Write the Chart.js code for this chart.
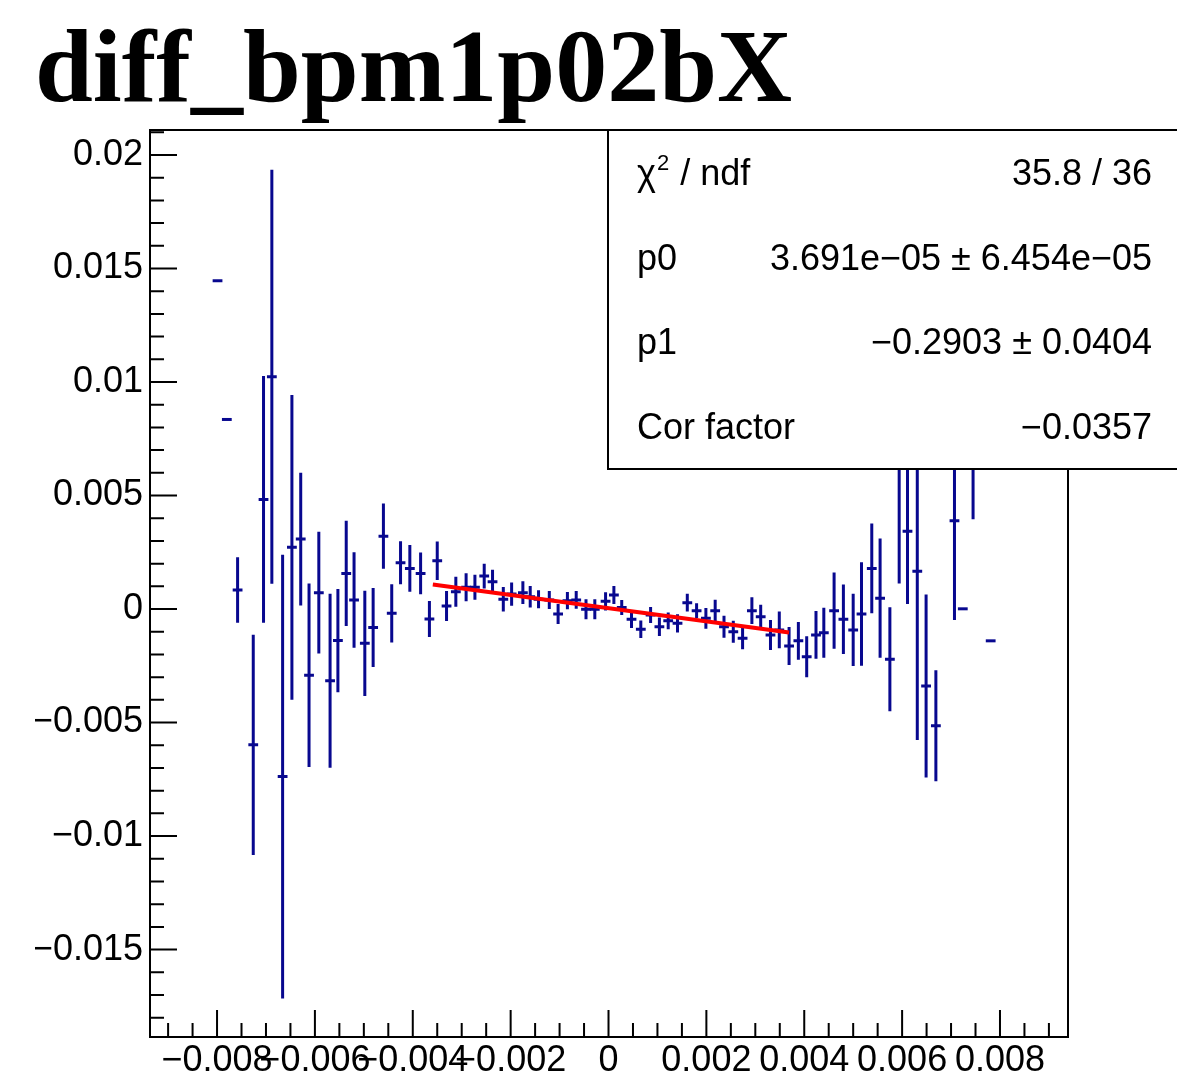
<!DOCTYPE html>
<html>
<head>
<meta charset="utf-8">
<title>diff_bpm1p02bX</title>
<script src="https://cdn.jsdelivr.net/npm/chart.js@4.4.1/dist/chart.umd.min.js"></script>
<style>
  html, body { margin: 0; padding: 0; background: #fff; }
</style>
</head>
<body>
<canvas id="plot" width="1177" height="1090"></canvas>
<script>
const xValues = [
  -0.00799, -0.0078, -0.00758, -0.00726, -0.00705, -0.00688, -0.00666, -0.00647, -0.00629, -0.00612,
  -0.00592, -0.00569, -0.00553, -0.00536, -0.0052, -0.00498, -0.00481, -0.0046, -0.00443, -0.00425,
  -0.00406, -0.00384, -0.00366, -0.0035, -0.00331, -0.00312, -0.00291, -0.00273, -0.00254, -0.00237,
  -0.00215, -0.00198, -0.00175, -0.0016, -0.00143, -0.00121, -0.00103, -0.00084, -0.00066, -0.00046,
  -0.00028, -0.00006, 0.00011, 0.00027, 0.00047, 0.00066, 0.00086, 0.00104, 0.00122, 0.00141,
  0.00161, 0.0018, 0.00199, 0.00218, 0.00236, 0.00255, 0.00274, 0.00293, 0.00311, 0.00331,
  0.00349, 0.00369, 0.00388, 0.00405, 0.00424, 0.0044, 0.00461, 0.0048, 0.005, 0.00517,
  0.00538, 0.00555, 0.00575, 0.00594, 0.00611, 0.00631, 0.00649, 0.00669, 0.00707, 0.00724,
  0.00745, 0.00781,
];

const yValues = [
  0.01446, 0.00835, 0.00084, -0.00598, 0.00483, 0.01023, -0.00738, 0.00272, 0.00308, -0.00292,
  0.00072, -0.00316, -0.00139, 0.00157, 0.0004, -0.00151, -0.00081, 0.00321, -0.00019, 0.00204,
  0.00179, 0.00157, -0.00044, 0.00213, 0.00013, 0.00076, 0.00096, 0.00096, 0.00145, 0.0012,
  0.00043, 0.00066, 0.00072, 0.00054, 0.00043, 0.0004, -0.00022, 0.00037, 0.0004, -0.00001,
  -0.00001, 0.00034, 0.00062, 0.00007, -0.00045, -0.00089, -0.00026, -0.00078, -0.00052, -0.00063,
  0.00028, -0.00007, -0.00041, -0.00007, -0.00078, -0.001, -0.00129, -0.00007, -0.00034, -0.00114,
  -0.00092, -0.00163, -0.0014, -0.0021, -0.00114, -0.00104, -0.00007, -0.00045, -0.00092, -0.00022,
  0.00179, 0.00048, -0.00221, 0.00744, 0.00343, 0.00166, -0.00339, -0.00514, 0.00389, 0.00001,
  0.00832, -0.0014,
];

const yErrors = [
  0, 0, 0.00144, 0.00485, 0.00543, 0.00912, 0.00977, 0.00671, 0.00292, 0.00404,
  0.00268, 0.00383, 0.00227, 0.00232, 0.0021, 0.00232, 0.00174, 0.00144, 0.00128, 0.00095,
  0.00103, 0.00092, 0.00079, 0.00085, 0.00066, 0.00066, 0.00062, 0.00055, 0.00054, 0.00053,
  0.00054, 0.00051, 0.0005, 0.00047, 0.0004, 0.0004, 0.00044, 0.00038, 0.00039, 0.00044,
  0.00044, 0.0004, 0.0004, 0.00033, 0.00039, 0.00039, 0.00035, 0.00041, 0.00037, 0.0004,
  0.00039, 0.00033, 0.00046, 0.00048, 0.00048, 0.00048, 0.00048, 0.00059, 0.00053, 0.00066,
  0.00081, 0.00084, 0.00083, 0.0009, 0.00105, 0.0011, 0.00168, 0.00153, 0.00159, 0.00228,
  0.00198, 0.00263, 0.00229, 0.00631, 0.00321, 0.00743, 0.00403, 0.00244, 0.00437, 0,
  0.00436, 0,
];

const xHalfWidth = 0.0001;

const fitX = [-0.00359, 0.00369];
const fitY = [0.00108, -0.00103];

const xTickValues = [-0.008, -0.006, -0.004, -0.002, 0, 0.002, 0.004, 0.006, 0.008];
const yTickValues = [-0.015, -0.01, -0.005, 0, 0.005, 0.01, 0.015, 0.02];

const statLabels = ["χ^2 / ndf", "p0", "p1", "Cor factor"];
const statValues = ["35.8 / 36", "3.691e\u221205 ± 6.454e\u221205", "\u22120.2903 ± 0.0404", "\u22120.0357"];

const sansFont = '"Liberation Sans", Arial, Helvetica, sans-serif';
const barColor = "#08088f";

function formatTick(value) {
  const s = String(Number(value.toFixed(4)));
  return s.replace("-", "\u2212");
}

const errorBarPlugin = {
  id: "errorBars",
  beforeDatasetsDraw(chart) {
    const { ctx, chartArea: a, scales } = chart;
    const points = chart.data.datasets[0].data;
    ctx.save();
    ctx.beginPath();
    ctx.rect(a.left, a.top, a.right - a.left, a.bottom - a.top);
    ctx.clip();
    ctx.strokeStyle = barColor;
    ctx.lineWidth = 3;
    points.forEach((p) => {
      const cx = scales.x.getPixelForValue(p.x);
      const cy = scales.y.getPixelForValue(p.y);
      ctx.beginPath();
      ctx.moveTo(scales.x.getPixelForValue(p.x - xHalfWidth), cy);
      ctx.lineTo(scales.x.getPixelForValue(p.x + xHalfWidth), cy);
      if (p.yErr > 0) {
        ctx.moveTo(cx, scales.y.getPixelForValue(p.y + p.yErr));
        ctx.lineTo(cx, scales.y.getPixelForValue(p.y - p.yErr));
      }
      ctx.stroke();
    });
    ctx.restore();
  },
};

const frameTicksPlugin = {
  id: "frameTicks",
  afterDatasetsDraw(chart) {
    const { ctx, chartArea: a, scales: { x, y } } = chart;
    ctx.save();
    ctx.strokeStyle = "#000";
    ctx.lineWidth = 2;
    ctx.strokeRect(a.left, a.top, a.right - a.left, a.bottom - a.top);
    ctx.beginPath();
    // y axis: major every 0.005, minor every 0.001 (ticks point inward)
    for (let i = -19; i <= 21; i++) {
      const py = y.getPixelForValue(i / 1000);
      if (py < a.top || py > a.bottom) continue;
      const len = i % 5 === 0 ? 27 : 14;
      ctx.moveTo(a.left, py);
      ctx.lineTo(a.left + len, py);
    }
    // x axis: major every 0.002, minor every 0.0005
    for (let i = -19; i <= 19; i++) {
      const px = x.getPixelForValue(i * 0.0005);
      if (px < a.left || px > a.right) continue;
      const len = i % 4 === 0 ? 27 : 14;
      ctx.moveTo(px, a.bottom);
      ctx.lineTo(px, a.bottom - len);
    }
    ctx.stroke();
    ctx.restore();
  },
};

const statsBoxPlugin = {
  id: "statsBox",
  afterDraw(chart) {
    const { ctx, chartArea: a } = chart;
    const left = 608;
    const top = a.top;
    const bottom = 469;
    ctx.save();
    ctx.fillStyle = "#fff";
    ctx.fillRect(left, top, chart.width - left + 10, bottom - top);
    ctx.strokeStyle = "#000";
    ctx.lineWidth = 2;
    ctx.strokeRect(left, top, chart.width - left + 10, bottom - top);

    const rowH = (bottom - top) / statLabels.length;
    ctx.fillStyle = "#000";
    ctx.textBaseline = "alphabetic";
    statLabels.forEach((label, i) => {
      const base = top + rowH * (i + 0.5) + 12.5;
      let px = 637;
      ctx.textAlign = "left";
      label.split(/(\^.)/).forEach((part) => {
        if (!part) return;
        if (part[0] === "^") {
          ctx.font = `22px ${sansFont}`;
          ctx.fillText(part[1], px + 1, base - 15);
          px += ctx.measureText(part[1]).width + 2;
        } else {
          ctx.font = `36px ${sansFont}`;
          ctx.fillText(part, px, base);
          px += ctx.measureText(part).width;
        }
      });
      ctx.font = `36px ${sansFont}`;
      ctx.textAlign = "right";
      ctx.fillText(statValues[i], 1152, base);
    });
    ctx.restore();
  },
};

const points = xValues.map((x, i) => ({ x, y: yValues[i], yErr: yErrors[i] }));
const fitLine = fitX.map((x, i) => ({ x, y: fitY[i] }));

new Chart(document.getElementById("plot"), {
  type: "scatter",
  data: {
    datasets: [
      { label: "diff_bpm1p02bX", data: points, pointRadius: 0, pointHoverRadius: 0 },
      {
        type: "line",
        label: "fit",
        data: fitLine,
        borderColor: "#ff0000",
        borderWidth: 4,
        pointRadius: 0,
        tension: 0,
        fill: false,
      },
    ],
  },
  options: {
    responsive: false,
    animation: false,
    events: [],
    layout: { padding: { left: 35, right: 109, top: 0, bottom: 9 } },
    plugins: {
      legend: { display: false },
      tooltip: { enabled: false },
      title: {
        display: true,
        text: "diff_bpm1p02bX",
        align: "start",
        color: "#000",
        font: { family: '"Liberation Serif", "Times New Roman", serif', size: 104, weight: "bold", lineHeight: 1 },
        padding: { top: 22, bottom: 4 },
      },
    },
    scales: {
      x: {
        type: "linear",
        min: -0.00937,
        max: 0.00939,
        afterBuildTicks: (scale) => {
          scale.ticks = xTickValues.map((v) => ({ value: v }));
        },
        afterFit: (scale) => {
          scale.height = 44;
        },
        ticks: {
          autoSkip: false,
          maxRotation: 0,
          minRotation: 0,
          padding: 2,
          color: "#000",
          font: { family: sansFont, size: 36 },
          callback: (value) => formatTick(value),
        },
        grid: { display: false, drawTicks: false },
        border: { display: false },
      },
      y: {
        type: "linear",
        min: -0.01885,
        max: 0.0211,
        afterBuildTicks: (scale) => {
          scale.ticks = yTickValues.map((v) => ({ value: v }));
        },
        afterFit: (scale) => {
          scale.width = 115;
        },
        ticks: {
          padding: 7,
          color: "#000",
          font: { family: sansFont, size: 36 },
          callback: (value) => formatTick(value),
        },
        grid: { display: false, drawTicks: false },
        border: { display: false },
      },
    },
  },
  plugins: [errorBarPlugin, frameTicksPlugin, statsBoxPlugin],
});
</script>
</body>
</html>
